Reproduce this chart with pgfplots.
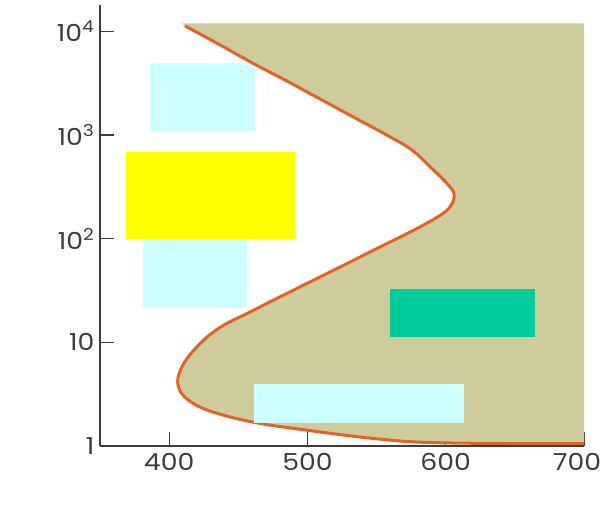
\documentclass[border=0pt]{standalone}
\usepackage{fontspec}
\setmainfont{Poppins}[FakeStretch=1.14]
\usepackage{pgfplots}
\pgfplotsset{compat=1.18}
\definecolor{khaki}{RGB}{207,204,156}
\definecolor{curveor}{RGB}{226,98,42}
\definecolor{lcyan}{RGB}{204,255,255}
\definecolor{lgreen}{RGB}{0,204,153}
\definecolor{lyellow}{RGB}{255,255,0}
\definecolor{axgray}{RGB}{60,60,60}
\pgfplotstableread{
x y
411.5 11250
436 7482
460.9 4887
485 3319
510 2188
535 1445
559.8 957
575.7 713
588.8 491
600.9 340
606.1 262
600.9 188
581.5 130
552.6 83.2
529 57.8
505.5 40.4
482 28.2
458.5 19.6
434.5 13.3
416.5 8.0
407.2 5.0
407.5 3.5
416 2.65
432 2.12
460.7 1.70
494.7 1.45
552.6 1.164
599.6 1.072
700 1.052
}\curvedata
\begin{document}
\begin{tikzpicture}
\begin{axis}[
  name=ax,
  scale only axis,
  width=484bp, height=441bp,
  xmin=350, xmax=700,
  ymode=log, ymin=1, ymax=17900,
  axis x line=bottom, axis y line=left,
  axis line style={-, line width=1.3bp, axgray},
  tick align=inside,
  major tick length=14bp,
  tick style={axgray, line width=1.2bp},
  xtick={400,500,600,700},
  xticklabels={400,500,600,{\kern-14bp 700}},
  ytick={1,10,100,1000,10000},
  yticklabels={1,10,10\textsuperscript{2},10\textsuperscript{3},10\textsuperscript{4}},
  yminorticks=false,
  /pgf/number format/assume math mode=true,
  tick label style={font=\fontsize{23.5}{26}\selectfont, text=axgray},
  xticklabel style={yshift=-4bp},
  yticklabel style={xshift=-2bp},
]
% shaded region
\addplot[draw=none, fill=khaki] coordinates {(409,11870) (411.5,11250) (436,7482) (460.9,4887) (485,3319) (510,2188) (535,1445)
 (559.8,957) (575.7,713) (588.8,491) (600.9,340) (606.1,262) (600.9,188) (581.5,130) (552.6,83.2) (529,57.8) (505.5,40.4)
 (482,28.2) (458.5,19.6) (434.5,13.3) (416.5,8.0) (407.2,5.0) (407.5,3.5) (416,2.65) (432,2.12)
 (460.7,1.70) (494.7,1.45) (552.6,1.164) (599.6,1.072) (700,1.052) (700,11870)} -- cycle;
% rectangles
\addplot[draw=none, fill=lcyan] coordinates {(386.2,1062) (462.2,1062) (462.2,4900) (386.2,4900)} -- cycle;
\addplot[draw=none, fill=lyellow] coordinates {(368.8,98.6) (491.1,98.6) (491.1,685) (368.8,685)} -- cycle;
\addplot[draw=none, fill=lcyan] coordinates {(380.9,21.2) (456.1,21.2) (456.1,98.6) (380.9,98.6)} -- cycle;
\addplot[draw=none, fill=lgreen] coordinates {(559.8,11.3) (664.8,11.3) (664.8,33.0) (559.8,33.0)} -- cycle;
% curve
\addplot[curveor, line width=3bp, smooth, tension=0.65] table[x=x, y=y] {\curvedata};
\addplot[draw=none, fill=lcyan] coordinates {(461.7,1.65) (612.9,1.65) (612.9,3.94) (461.7,3.94)} -- cycle;
\end{axis}
\pgfresetboundingbox
\path (ax.south west) ++(-100bp,-72bp) rectangle ([shift={(22bp,5bp)}]ax.north east);
\end{tikzpicture}
\end{document}
